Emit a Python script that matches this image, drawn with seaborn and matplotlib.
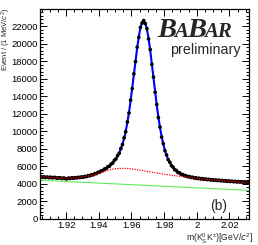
import numpy as np
import pandas as pd
import seaborn as sns
import matplotlib
matplotlib.use("Agg")
import matplotlib.pyplot as plt
from matplotlib.ticker import MultipleLocator, FuncFormatter

# 1 MeV bins between 1.904 and 2.032 GeV/c^2
mass = np.round(1.9045 + 0.001 * np.arange(128), 4)

# data points (events per bin)
events = [4830, 4760, 4805, 4740, 4790, 4720, 4770, 4695, 4745, 4730,
          4650, 4700, 4690, 4625, 4680, 4610, 4590, 4670, 4630, 4700,
          4655, 4720, 4690, 4760, 4730, 4800, 4770, 4860, 4840, 4950,
          4930, 5050, 5040, 5170, 5180, 5320, 5330, 5500, 5520, 5700,
          5750, 5960, 6020, 6260, 6380, 6690, 6850, 7230, 7500, 8030,
          8490, 9260, 9960, 11070, 12100, 13560, 14880, 16560, 17960, 19590,
          20720, 21860, 22350, 22640, 22290, 21720, 20540, 19330, 17650, 16190,
          14450, 13070, 11570, 10490, 9340, 8600, 7790, 7320, 6770, 6480,
          6090, 5920, 5630, 5530, 5310, 5260, 5090, 5070, 4940, 4930,
          4820, 4840, 4740, 4760, 4670, 4700, 4615, 4650, 4570, 4600,
          4525, 4560, 4490, 4520, 4450, 4485, 4420, 4455, 4390, 4430,
          4365, 4400, 4335, 4370, 4305, 4345, 4280, 4315, 4255, 4290,
          4230, 4270, 4215, 4250, 4195, 4235, 4175, 4210]

# red dotted: background
bkg_red = [4800, 4789, 4778, 4767, 4756, 4745, 4734, 4722, 4710, 4698,
           4686, 4676, 4668, 4660, 4652, 4644, 4644, 4652, 4660, 4668,
           4676, 4690, 4710, 4730, 4750, 4770, 4798, 4834, 4870, 4906,
           4942, 4988, 5044, 5100, 5156, 5212, 5270, 5330, 5390, 5450,
           5510, 5560, 5600, 5640, 5680, 5720, 5745, 5755, 5765, 5775,
           5785, 5783, 5769, 5755, 5741, 5727, 5706, 5678, 5650, 5622,
           5594, 5564, 5532, 5500, 5468, 5436, 5404, 5372, 5340, 5308,
           5276, 5245, 5215, 5185, 5155, 5125, 5097, 5071, 5045, 5019,
           4993, 4968, 4944, 4920, 4896, 4872, 4849, 4827, 4805, 4783,
           4761, 4739, 4717, 4695, 4673, 4651, 4630, 4610, 4590, 4570,
           4550, 4531, 4513, 4495, 4477, 4459, 4443, 4429, 4415, 4401,
           4387, 4373, 4359, 4345, 4331, 4317, 4304, 4292, 4280, 4268,
           4256, 4245, 4236, 4227, 4218, 4208, 4199, 4190]

# blue: total fit
fit_total = [4800, 4789, 4778, 4767, 4756, 4745, 4734, 4722, 4710, 4698,
             4686, 4676, 4668, 4660, 4652, 4644, 4644, 4652, 4660, 4668,
             4676, 4690, 4710, 4730, 4750, 4770, 4798, 4834, 4875, 4915,
             4954, 5005, 5070, 5134, 5206, 5279, 5361, 5451, 5551, 5660,
             5784, 5916, 6053, 6215, 6405, 6628, 6880, 7171, 7531, 7976,
             8528, 9201, 10013, 10996, 12154, 13480, 14942, 16483, 18036, 19505,
             20791, 21785, 22408, 22600, 22344, 21657, 20601, 19255, 17726, 16113,
             14512, 12998, 11628, 10426, 9399, 8543, 7840, 7272, 6811, 6435,
             6128, 5876, 5669, 5495, 5349, 5228, 5123, 5037, 4966, 4904,
             4852, 4806, 4767, 4729, 4699, 4668, 4642, 4619, 4595, 4570,
             4550, 4531, 4513, 4495, 4477, 4459, 4443, 4429, 4415, 4401,
             4387, 4373, 4359, 4345, 4331, 4317, 4304, 4292, 4280, 4268,
             4256, 4245, 4236, 4227, 4218, 4208, 4199, 4190]

# green: second background component
green_mass = [1.9045, 1.9365, 1.9685, 2.0005, 2.0315]
green_bkg = [4420, 4130, 3840, 3550, 3270]

sns.set_theme(style="ticks")
plt.rcParams['font.family'] = ['Liberation Sans', 'DejaVu Sans']
plt.rcParams['mathtext.default'] = 'regular'

fig = plt.figure(figsize=(2.58, 2.45), dpi=100)
ax = fig.add_axes([40/258, 1-219/245, 209/258, 209.5/245])

sns.lineplot(x=green_mass, y=green_bkg, color='#5cee5c', lw=0.8, ax=ax, zorder=2)
sns.lineplot(x=mass, y=fit_total, color='blue', lw=1.5, ax=ax, zorder=2)
sns.scatterplot(x=mass, y=events, color='black', s=7, edgecolor='none', ax=ax, zorder=3)
sns.lineplot(x=mass, y=bkg_red, color='red', lw=0.9, ls=(0, (1, 1)), ax=ax, zorder=4)

ax.set_xlim(1.904, 2.032)
ax.set_ylim(0, 23900)
ax.xaxis.set_major_locator(MultipleLocator(0.02))
ax.xaxis.set_minor_locator(MultipleLocator(0.005))
ax.yaxis.set_major_locator(MultipleLocator(2000))
ax.yaxis.set_minor_locator(MultipleLocator(400))
ax.xaxis.set_major_formatter(FuncFormatter(lambda v, p: '%g' % round(v, 3)))
ax.tick_params(which='both', direction='in', top=True, right=True,
               labelsize=6.8, pad=1.5, width=0.7, colors='black')
ax.tick_params(which='major', length=5)
ax.tick_params(which='minor', length=2.5)
for s in ax.spines.values():
    s.set_linewidth(0.9)
    s.set_color('black')
ax.set_xlabel('')
ax.set_ylabel('')

fig.text(6.5/258, 1-8/245, r'Event / (1 MeV/$\mathit{c}^{2}$)', rotation=90,
         ha='center', va='top', fontsize=5.4)
fig.text(253/258, 1-238.5/245, r'm(K$_{S}^{0}$K$^{\pm}$)[GeV/$\mathit{c}^{2}$]',
         ha='right', va='center', fontsize=6.2)

# BABAR logo
renderer = fig.canvas.get_renderer()
xpos = 157
for txt, size in [('B', 20.5), ('A', 15), ('B', 20.5), ('AR', 15)]:
    t = fig.text(xpos/258, 1-37/245, txt, fontsize=size, family='Liberation Serif',
                 weight='bold', style='italic', ha='left', va='baseline')
    bb = t.get_window_extent(renderer)
    xpos = bb.x1 - 1.5
fig.text(241/258, 1-54/245, 'preliminary', fontsize=10.3, ha='right', va='baseline')
fig.text(219/258, 1-206/245, '(b)', fontsize=10, ha='center', va='center')

fig.savefig('out.png', dpi=100)
